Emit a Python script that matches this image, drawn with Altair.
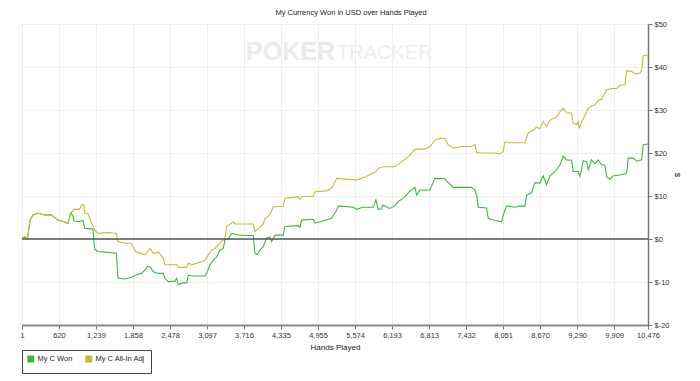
import altair as alt
import pandas as pd

chart_title = "My Currency Won in USD over Hands Played"
series_names = ["My C Won", "My C All-In Adj"]
series_colors = ["#3fb83f", "#c4bb3c"]
x_ticks = [1, 620, 1239, 1858, 2478, 3097, 3716, 4335, 4955, 5574, 6193,
           6813, 7432, 8051, 8670, 9290, 9909, 10476]
y_ticks = list(range(-20, 55, 5))

won_hands = [1, 40, 90, 135, 185, 269, 380, 491, 603, 700, 771, 815, 850, 871, 960, 1022, 1050, 1189,
             1217, 1273, 1450, 1579, 1607, 1720, 1830, 1942, 2000, 2059, 2100, 2143, 2198, 2282, 2365,
             2393, 2449, 2561, 2589, 2616, 2700, 2756, 2783, 2840, 3063, 3091, 3146, 3202, 3258, 3313,
             3369, 3397, 3450, 3509, 3600, 3732, 3871, 3899, 3940, 3983, 4039, 4095, 4150, 4178, 4234,
             4373, 4401, 4624, 4652, 4680, 4875, 4903, 4987, 5182, 5265, 5293, 5544, 5600, 5700, 5878,
             5923, 5962, 6010, 6046, 6150, 6241, 6297, 6409, 6493, 6576, 6604, 6660, 6827, 6855, 6911,
             7078, 7106, 7217, 7524, 7580, 7608, 7636, 7775, 7803, 7914, 8026, 8054, 8110, 8250, 8333,
             8416, 8444, 8528, 8583, 8667, 8723, 8779, 8834, 8918, 9002, 9058, 9113, 9197, 9225, 9309,
             9337, 9365, 9392, 9448, 9476, 9532, 9587, 9643, 9699, 9755, 9783, 9838, 9894, 10006, 10118,
             10145, 10229, 10285, 10369, 10397, 10476]
won_values = [0, 0.6, 0, 4.3, 5.6, 6.0, 5.6, 5.6, 4.4, 4.0, 3.6, 6.0, 5.5, 4.2, 4.0, 4.3, 2.5, 2.3,
              -2.4, -2.9, -3.1, -3.3, -9.1, -9.3, -8.9, -8.2, -8.0, -7.2, -6.3, -6.5, -7.6, -8.0, -8.0,
              -9.1, -9.9, -9.8, -9.1, -10.6, -10.2, -10.2, -8.4, -8.6, -8.6, -8.0, -6.0, -4.9, -4.2, -2.6,
              -2.2, -0.2, 0.0, 1.3, 1.0, 0.8, 0.8, -3.3, -3.6, -2.5, -1.8, 0.3, 0.5, -0.6, 0.9,
              0.9, 2.9, 3.1, 2.7, 4.4, 4.6, 3.7, 4.0, 4.8, 6.7, 7.7, 7.4, 6.9, 7.4, 7.4,
              9.1, 6.9, 7.0, 7.9, 7.1, 7.7, 8.7, 9.8, 11.2, 12.0, 10.2, 11.4, 11.4, 12.3, 14.1,
              14.0, 13.5, 12.0, 12.0, 11.4, 10.2, 7.4, 7.2, 4.8, 4.3, 4.0, 5.6, 7.7, 7.4, 7.7,
              7.6, 10.2, 10.8, 13.1, 13.0, 14.7, 12.6, 14.7, 15.7, 17.2, 19.3, 18.4, 18.3, 15.7, 15.7,
              14.5, 16.3, 18.2, 18.0, 16.1, 18.4, 17.5, 18.4, 17.2, 17.2, 14.5, 13.9, 14.7, 14.9, 15.2,
              18.8, 18.8, 18.1, 18.4, 21.9, 22.1]

adj_hands = [1, 40, 90, 135, 185, 269, 380, 491, 603, 700, 771, 815, 871, 960, 1000, 1035, 1050, 1100,
             1217, 1273, 1450, 1579, 1607, 1720, 1830, 1900, 2000, 2059, 2143, 2198, 2282, 2365, 2393,
             2589, 2616, 2756, 2783, 2840, 3063, 3118, 3174, 3230, 3313, 3397, 3425, 3537, 3565, 3871,
             3899, 3955, 4039, 4067, 4150, 4206, 4373, 4401, 4624, 4652, 4680, 4875, 4903, 5100, 5182,
             5265, 5544, 5600, 5750, 5923, 5962, 6046, 6241, 6353, 6465, 6576, 6744, 6827, 6911, 6995,
             7078, 7134, 7217, 7357, 7524, 7580, 7608, 7692, 7914, 7998, 8054, 8082, 8166, 8416, 8472,
             8556, 8611, 8667, 8723, 8779, 8834, 8946, 9002, 9058, 9113, 9197, 9225, 9281, 9309, 9326,
             9365, 9420, 9476, 9532, 9587, 9643, 9699, 9783, 9866, 9950, 10006, 10090, 10118, 10201,
             10257, 10341, 10369, 10397, 10476]
adj_values = [0, 0.6, 0, 4.3, 5.6, 6.0, 5.6, 5.6, 4.4, 4.0, 3.6, 6.0, 6.9, 6.9, 7.9, 8.0, 6.0, 6.0,
              2.1, 1.3, 1.5, 1.3, -0.6, -1.0, -1.0, -2.9, -3.4, -3.7, -2.2, -3.4, -3.0, -4.5, -6.0,
              -6.0, -6.6, -6.6, -5.6, -6.0, -5.0, -3.7, -2.6, -2.2, -1.0, 0.2, 2.9, 4.0, 3.5, 3.5,
              1.7, 2.4, 3.5, 4.8, 5.6, 7.5, 7.6, 9.5, 9.8, 9.2, 9.9, 9.9, 11.0, 11.2, 11.8,
              14.1, 13.8, 13.7, 14.5, 15.7, 16.4, 16.8, 16.8, 18.0, 19.1, 20.9, 20.9, 21.5, 23.0, 23.4,
              23.4, 21.9, 21.1, 21.5, 21.5, 22.0, 20.1, 20.0, 20.0, 19.8, 20.4, 22.6, 22.4, 22.4, 24.7,
              25.3, 26.0, 25.7, 27.3, 26.2, 27.6, 28.4, 29.6, 30.4, 29.3, 29.3, 26.9, 26.6, 27.3, 25.7,
              27.3, 28.7, 30.4, 31.0, 31.2, 32.2, 32.5, 34.7, 35.0, 35.0, 35.8, 35.8, 39.1, 39.0,
              38.4, 38.6, 39.3, 42.6, 42.8]

df = pd.concat([
    pd.DataFrame({"hand": won_hands, "value": won_values, "series": series_names[0], "order": 1}),
    pd.DataFrame({"hand": adj_hands, "value": adj_values, "series": series_names[1], "order": 0}),
], ignore_index=True)

FONT = "Liberation Sans, Arial, sans-serif"

watermark_a = alt.Chart(pd.DataFrame({"t": ["POKER"]})).mark_text(
    font=FONT, fontSize=25, fontWeight="bold", color="#ebebeb", align="right", baseline="middle"
).encode(text="t:N", x=alt.value(313), y=alt.value(28))
watermark_b = alt.Chart(pd.DataFrame({"t": ["TRACKER"]})).mark_text(
    font=FONT, fontSize=20, fontWeight="normal", color="#efefef", align="left", baseline="middle"
).encode(text="t:N", x=alt.value(315), y=alt.value(29))

zero = alt.Chart(pd.DataFrame({"z": [0]})).mark_rule(color="#555555", strokeWidth=1.5).encode(
    y=alt.Y("z:Q", scale=alt.Scale(domain=[-20, 50], nice=False))
)

lines = alt.Chart(df).mark_line(strokeWidth=1.1).encode(
    x=alt.X("hand:Q",
            scale=alt.Scale(domain=[1, 10476], nice=False, zero=False),
            axis=alt.Axis(values=x_ticks, labelExpr="format(datum.value, ',')", title="Hands Played",
                          labelFlush=False, labelOverlap=False, domainWidth=2, domainColor="#888888",
                          tickSize=4, labelPadding=2, titlePadding=5)),
    y=alt.Y("value:Q",
            scale=alt.Scale(domain=[-20, 50], nice=False),
            axis=alt.Axis(orient="right", values=y_ticks, labelExpr="'$' + datum.value", title="$",
                          domainWidth=1.5, domainColor="#777777", tickSize=4, labelPadding=2,
                          titlePadding=3, titleAngle=90)),
    color=alt.Color("series:N",
                    scale=alt.Scale(domain=series_names, range=series_colors),
                    legend=alt.Legend(title=None, orient="none", legendX=0, legendY=326,
                                      direction="horizontal", symbolType="square", symbolSize=12,
                                      symbolStrokeWidth=3.5, labelFontSize=7.5, labelFont=FONT,
                                      labelColor="#222222", strokeColor="#444444", fillColor="white",
                                      padding=5, columnPadding=7, labelOffset=3)),
    order=alt.Order("order:Q"),
    detail="series:N",
)

chart = alt.layer(watermark_a, watermark_b, lines, zero).properties(
    width=626, height=301,
    autosize=alt.AutoSizeParams(type="none"),
    padding={"left": 14, "top": 16, "right": 44, "bottom": 56},
    title=alt.TitleParams(chart_title, fontSize=7.5, font=FONT, fontWeight="normal", color="#222222",
                          anchor="middle", offset=4, dx=16),
).configure_view(
    stroke="#777777", strokeWidth=1
).configure_axis(
    labelFont=FONT, labelFontSize=7.5, labelColor="#333333", titleFont=FONT, titleFontSize=8,
    titleFontWeight="normal", titleColor="#222222", gridColor="#eeeeee", gridWidth=1,
    tickColor="#777777"
)

chart.save("out.html", embed_options={"renderer": "svg", "actions": False})
